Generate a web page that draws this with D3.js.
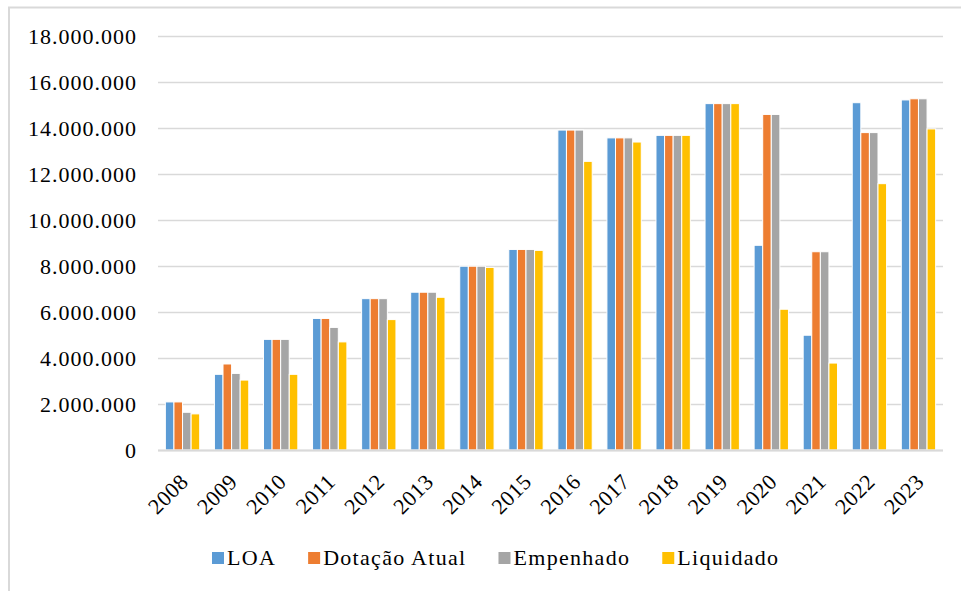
<!DOCTYPE html>
<html>
<head>
<meta charset="utf-8">
<script src="https://cdn.jsdelivr.net/npm/d3@7"></script>
<style>
  body { margin: 0; background: #fff; }
  text { font-family: "Liberation Serif", "Times New Roman", serif; fill: #000; }
</style>
</head>
<body>
<div class="chart"></div>
<script>
var years = ["2008", "2009", "2010", "2011", "2012", "2013", "2014", "2015",
             "2016", "2017", "2018", "2019", "2020", "2021", "2022", "2023"];
var seriesNames = ["LOA", "Dotação Atual", "Empenhado", "Liquidado"];
var seriesColors = ["#5B9BD5", "#ED7D31", "#A5A5A5", "#FFC000"];

var loa        = [2090000, 3290000, 4810000, 5720000, 6580000, 6860000, 7990000, 8720000,
                  13910000, 13570000, 13680000, 15060000, 8900000, 4990000, 15100000, 15220000];
var dotacao    = [2090000, 3740000, 4810000, 5720000, 6580000, 6860000, 7990000, 8720000,
                  13910000, 13570000, 13680000, 15060000, 14590000, 8620000, 13800000, 15270000];
var empenhado  = [1640000, 3330000, 4810000, 5330000, 6580000, 6860000, 7990000, 8720000,
                  13910000, 13570000, 13680000, 15060000, 14590000, 8620000, 13800000, 15270000];
var liquidado  = [1570000, 3040000, 3290000, 4700000, 5670000, 6640000, 7940000, 8680000,
                  12550000, 13390000, 13680000, 15060000, 6120000, 3780000, 11580000, 13960000];

var yTicks = [0, 2000000, 4000000, 6000000, 8000000, 10000000, 12000000, 14000000, 16000000, 18000000];

var svgWidth = 961;
var svgHeight = 591;
var margin = { top: 36, right: 18, bottom: 141, left: 158 };
var width = svgWidth - margin.left - margin.right;
var height = svgHeight - margin.top - margin.bottom;

var allSeries = [loa, dotacao, empenhado, liquidado];

var svg = d3.select(".chart")
  .append("svg")
  .attr("width", svgWidth)
  .attr("height", svgHeight);

// outer chart frame (extends past the window)
svg.append("rect")
  .attr("x", 9)
  .attr("y", 7.5)
  .attr("width", 1200)
  .attr("height", 1200)
  .attr("fill", "none")
  .attr("stroke", "#d9d9d9")
  .attr("stroke-width", 2);

var chart = svg.append("g")
  .attr("transform", "translate(" + margin.left + "," + margin.top + ")");

var locale = d3.formatLocale({ decimal: ",", thousands: ".", grouping: [3], currency: ["R$", ""] });
var fmt = locale.format(",d");

var x0 = d3.scaleBand()
  .domain(years)
  .range([0, width])
  .paddingInner(0.3)
  .paddingOuter(0.15);

var x1 = d3.scaleBand()
  .domain(d3.range(seriesNames.length))
  .range([0, x0.bandwidth()]);

var yLinearScale = d3.scaleLinear()
  .domain([0, 18000000])
  .range([height, 0]);

// gridlines
chart.append("g")
  .selectAll("line")
  .data(yTicks)
  .enter().append("line")
    .attr("x1", 0)
    .attr("x2", width)
    .attr("y1", function(d) { return Math.round(yLinearScale(d)) + 0.5; })
    .attr("y2", function(d) { return Math.round(yLinearScale(d)) + 0.5; })
    .attr("stroke", "#d9d9d9")
    .attr("stroke-width", 1.5);

// bars
var groups = chart.selectAll(".year")
  .data(years)
  .enter().append("g")
    .attr("class", "year")
    .attr("transform", function(d) { return "translate(" + x0(d) + ",0)"; });

groups.selectAll("rect")
  .data(function(d, i) {
    return allSeries.map(function(s, k) { return { k: k, v: s[i] }; });
  })
  .enter().append("rect")
    .attr("x", function(d) { return x1(d.k); })
    .attr("width", x1.bandwidth())
    .attr("y", function(d) { return yLinearScale(d.v); })
    .attr("height", function(d) { return height - yLinearScale(d.v); })
    .attr("fill", function(d) { return seriesColors[d.k]; })
    .attr("stroke", "#fff")
    .attr("stroke-width", 1);

// y axis labels
var leftAxis = d3.axisLeft(yLinearScale)
  .tickValues(yTicks)
  .tickFormat(fmt)
  .tickSize(0)
  .tickPadding(21);

var yAxis = chart.append("g").call(leftAxis);
yAxis.select(".domain").remove();
yAxis.selectAll("text")
  .attr("font-size", 22)
  .attr("letter-spacing", 1)
  .attr("fill", "#000");

// x axis labels
var bottomAxis = d3.axisBottom(x0).tickSize(0).tickPadding(0);
var xAxis = chart.append("g")
  .attr("transform", "translate(0," + height + ")")
  .call(bottomAxis);
xAxis.select(".domain").remove();
xAxis.selectAll("text")
  .attr("font-size", 22)
  .attr("letter-spacing", 0.5)
  .attr("fill", "#000")
  .attr("text-anchor", "end")
  .attr("dy", 0)
  .attr("y", 0)
  .attr("transform", "translate(7,33) rotate(-45)");

// baseline
chart.append("line")
  .attr("x1", 0)
  .attr("x2", width)
  .attr("y1", height + 0.5)
  .attr("y2", height + 0.5)
  .attr("stroke", "#d9d9d9")
  .attr("stroke-width", 2);

// legend
var legend = svg.append("g").attr("transform", "translate(212,0)");
var lx = 0;
seriesNames.forEach(function(name, k) {
  legend.append("rect")
    .attr("x", lx)
    .attr("y", 552)
    .attr("width", 12)
    .attr("height", 12)
    .attr("fill", seriesColors[k]);
  var t = legend.append("text")
    .attr("x", lx + 15)
    .attr("y", 565)
    .attr("font-size", 22)
    .attr("letter-spacing", 1.3)
    .text(name);
  lx += 15 + t.node().getComputedTextLength() + 32;
});
</script>
</body>
</html>
